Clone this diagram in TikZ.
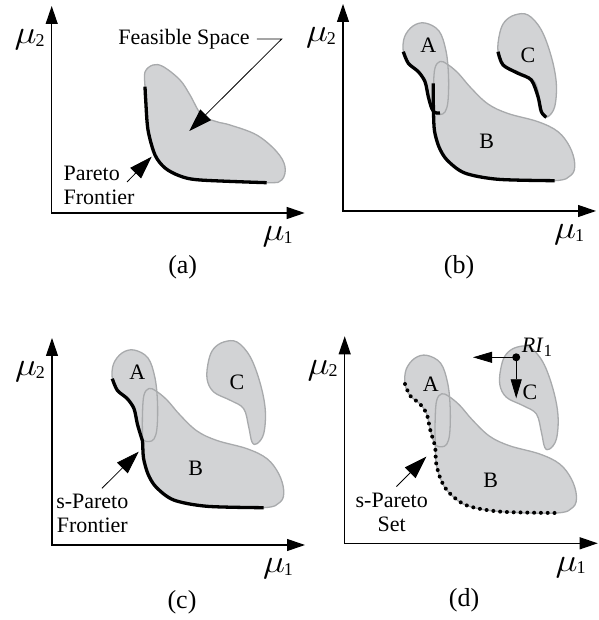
\documentclass[tikz,border=0pt]{standalone}
\usepackage{fontspec}
\setmainfont{Liberation Serif}
\usetikzlibrary{arrows.meta}
\definecolor{regionfill}{RGB}{210,211,213}
\definecolor{regionedge}{RGB}{168,170,172}

% axis labels
\newcommand{\muaxis}[1]{\scalebox{1.5}[1.3]{\fontsize{24}{24}\selectfont$\mu$}\kern-1pt\raisebox{-2.5pt}{\fontsize{18}{18}\selectfont #1}}

% regions A, B, C (relative to the axis origin)
\newcommand{\regionA}[1]{\path[#1] plot[smooth cycle, tension=0.6] coordinates {(82,188) (96,180) (103,160) (105.5,135) (105,110) (102,99) (97,96.5) (92,97.5) (88.7,102.7) (85.3,114.3) (82,129.3) (75.3,139.3) (65.3,147.7) (60.3,159.3) (61.5,174) (70,185)};}
\newcommand{\regionB}[1]{\path[#1] plot[smooth cycle, tension=0.6] coordinates {(97,149.5) (104,147) (115,138) (128,123) (145,107) (165,97.5) (195,89.3) (215,79.3) (226.7,64.3) (231.7,47.7) (228.3,36) (211.7,30.3) (155,31.7) (121.7,38) (104,51) (96,64) (91.5,80) (90.5,100) (90.5,125) (92,143)};}
\newcommand{\regionC}[1]{\path[#1] plot[smooth cycle, tension=0.6] coordinates {(171.7,196) (185,196) (198.3,181) (208.3,154.3) (213.3,127.7) (211.7,104.3) (205,94.3) (200,96) (196.7,111) (191.7,129.3) (178.3,137.7) (161.7,146) (155,159.3) (156.7,177.7) (161.7,189.3)};}
\newcommand{\regions}{\regionA{shade} \regionB{shade} \regionC{shade} \regionA{rim} \regionB{rim} \regionC{rim}}
\newcommand{\sfront}[1]{\draw[#1] plot[smooth] coordinates {(60.3,159.3) (65.3,147.7) (75.3,139.3) (82,129.3) (85.3,114.3) (88.7,102.7) (90.5,97) (91.5,80) (96,64) (104,51) (121.7,38) (155,31.7) (211.7,30.3)};}

\begin{document}
\begin{tikzpicture}[
    x=1pt, y=1pt,
    axis/.style={line width=1.1pt, {Triangle[length=18pt,width=12pt]}-{Triangle[length=18pt,width=12pt]}},
    shade/.style={fill=regionfill},
    rim/.style={draw=regionedge, line width=1.3pt},
    front/.style={line width=3.3pt},
    dotfront/.style={line width=4pt, line cap=round, dash pattern=on 0pt off 6.8pt},
    pointer/.style={line width=0.8pt, -{Triangle[length=23pt,width=15pt]}},
    ri_arrow/.style={line width=0.8pt, -{Triangle[length=19pt,width=11pt]}},
    every node/.style={font=\fontsize{22}{24}\selectfont, inner sep=0pt},
    caption/.style={font=\fontsize{26}{28}\selectfont}
]
\useasboundingbox (0,0) rectangle (598,620);

% (a)
\begin{scope}[shift={(51.7,407)}]
\coordinate (a_top) at (0,207);
\coordinate (a_end) at (253,0);
\draw[axis] (a_top) |- (a_end);
\path[shade, rim] plot[smooth cycle, tension=0.6] coordinates {(93.3,126.3) (93.3,141) (101.3,148) (111.6,146.3) (128.3,133) (138.3,118) (150,98) (165,91.3) (178.3,88) (205,78) (225,61.3) (233.3,46.3) (230,33) (215,30.3) (148.3,33) (128.3,37) (113.3,45) (103.3,58) (96.3,83) (94,113)};
\draw[front] plot[smooth] coordinates {(93.3,126.3) (94,113) (96.3,83) (103.3,58) (113.3,45) (128.3,37) (148.3,33) (215,30.3)};
\node (a_mu2) at (-22,173) {\muaxis{2}};
\node (a_mu1) at (226,-24) {\muaxis{1}};
\node (feasible) at (132.3,174) {Feasible Space};
\coordinate (feasible_bend) at (230,174);
\coordinate (feasible_tip) at (137.6,82);
\draw[pointer] ([xshift=7pt]feasible.east) -- (feasible_bend) -- (feasible_tip);
\node[align=left, anchor=west] (pareto) at (11.7,28) {Pareto\\Frontier};
\coordinate (pareto_tail) at (75.3,31);
\coordinate (pareto_tip) at (100,56.3);
\draw[pointer] (pareto_tail) -- (pareto_tip);
\node[caption] (cap_a) at (131,-54) {(a)};
\end{scope}

% (b)
\begin{scope}[shift={(343,409)}]
\coordinate (b_top) at (0,207);
\coordinate (b_end) at (253,0);
\draw[axis] (b_top) |- (b_end);
\regions
\draw[front] plot[smooth] coordinates {(60.3,159.3) (65.3,147.7) (75.3,139.3) (82,129.3) (85.3,114.3) (88.7,102.7) (92,98.3) (97,98)};
\draw[front] plot[smooth] coordinates {(90.3,127.7) (90.3,112) (90.5,98) (91.5,80) (96,64) (104,51) (121.7,38) (155,31.7) (211.7,30.3)};
\draw[front] plot[smooth] coordinates {(155,159.3) (160,146) (175,137.7) (188.3,131) (195,114.3) (198.3,99.3) (203.3,93.7)};
\node (b_A) at (85.3,166) {A};
\node (b_B) at (143.7,69.3) {B};
\node (b_C) at (185,156) {C};
\node (b_mu2) at (-22,173) {\muaxis{2}};
\node (b_mu1) at (226,-24) {\muaxis{1}};
\node[caption] (cap_b) at (116,-56) {(b)};
\end{scope}

% (c)
\begin{scope}[shift={(52,75)}]
\coordinate (c_top) at (0,207);
\coordinate (c_end) at (253,0);
\draw[axis] (c_top) |- (c_end);
\begin{scope}[yshift=7]
\regions
\sfront{front}
\node (c_A) at (85.3,166) {A};
\node (c_B) at (143.7,69.3) {B};
\node (c_C) at (185,156) {C};
\end{scope}
\node (c_mu2) at (-22,173) {\muaxis{2}};
\node (c_mu1) at (226,-24) {\muaxis{1}};
\node[align=center] (spf) at (40.3,32) {s-Pareto\\Frontier};
\coordinate (spf_tail) at (50,56.7);
\coordinate (spf_tip) at (86.7,93.3);
\draw[pointer] (spf_tail) -- (spf_tip);
\node[caption] (cap_c) at (130,-57) {(c)};
\end{scope}

% (d)
\begin{scope}[shift={(344.7,76.7)}]
\coordinate (d_top) at (0,207);
\coordinate (d_end) at (253,0);
\draw[axis] (d_top) |- (d_end);
\regions
\sfront{dotfront}
\node (d_A) at (86,159.3) {A};
\node (d_B) at (146,63.3) {B};
\node (d_C) at (185.3,151.3) {C};
\node[circle, fill, minimum size=8pt] (ri) at (171.5,186) {};
\coordinate (ri_left) at (128.3,186);
\coordinate (ri_down) at (171.5,145);
\draw[ri_arrow] (ri.center) -- (ri_left);
\draw[ri_arrow] (ri.center) -- (ri_down);
\node[anchor=base west] (ri_label) at (177,190.3) {\textit{RI}\raisebox{-4pt}{\fontsize{17}{17}\selectfont 1}};
\node (d_mu2) at (-22,173) {\muaxis{2}};
\node (d_mu1) at (226,-24) {\muaxis{1}};
\node[align=center] (sps) at (47,31) {s-Pareto\\Set};
\coordinate (sps_tail) at (51.7,56.7);
\coordinate (sps_tip) at (81.7,86.7);
\draw[pointer] (sps_tail) -- (sps_tip);
\node[caption] (cap_d) at (119.3,-56.7) {(d)};
\end{scope}
\end{tikzpicture}
\end{document}
